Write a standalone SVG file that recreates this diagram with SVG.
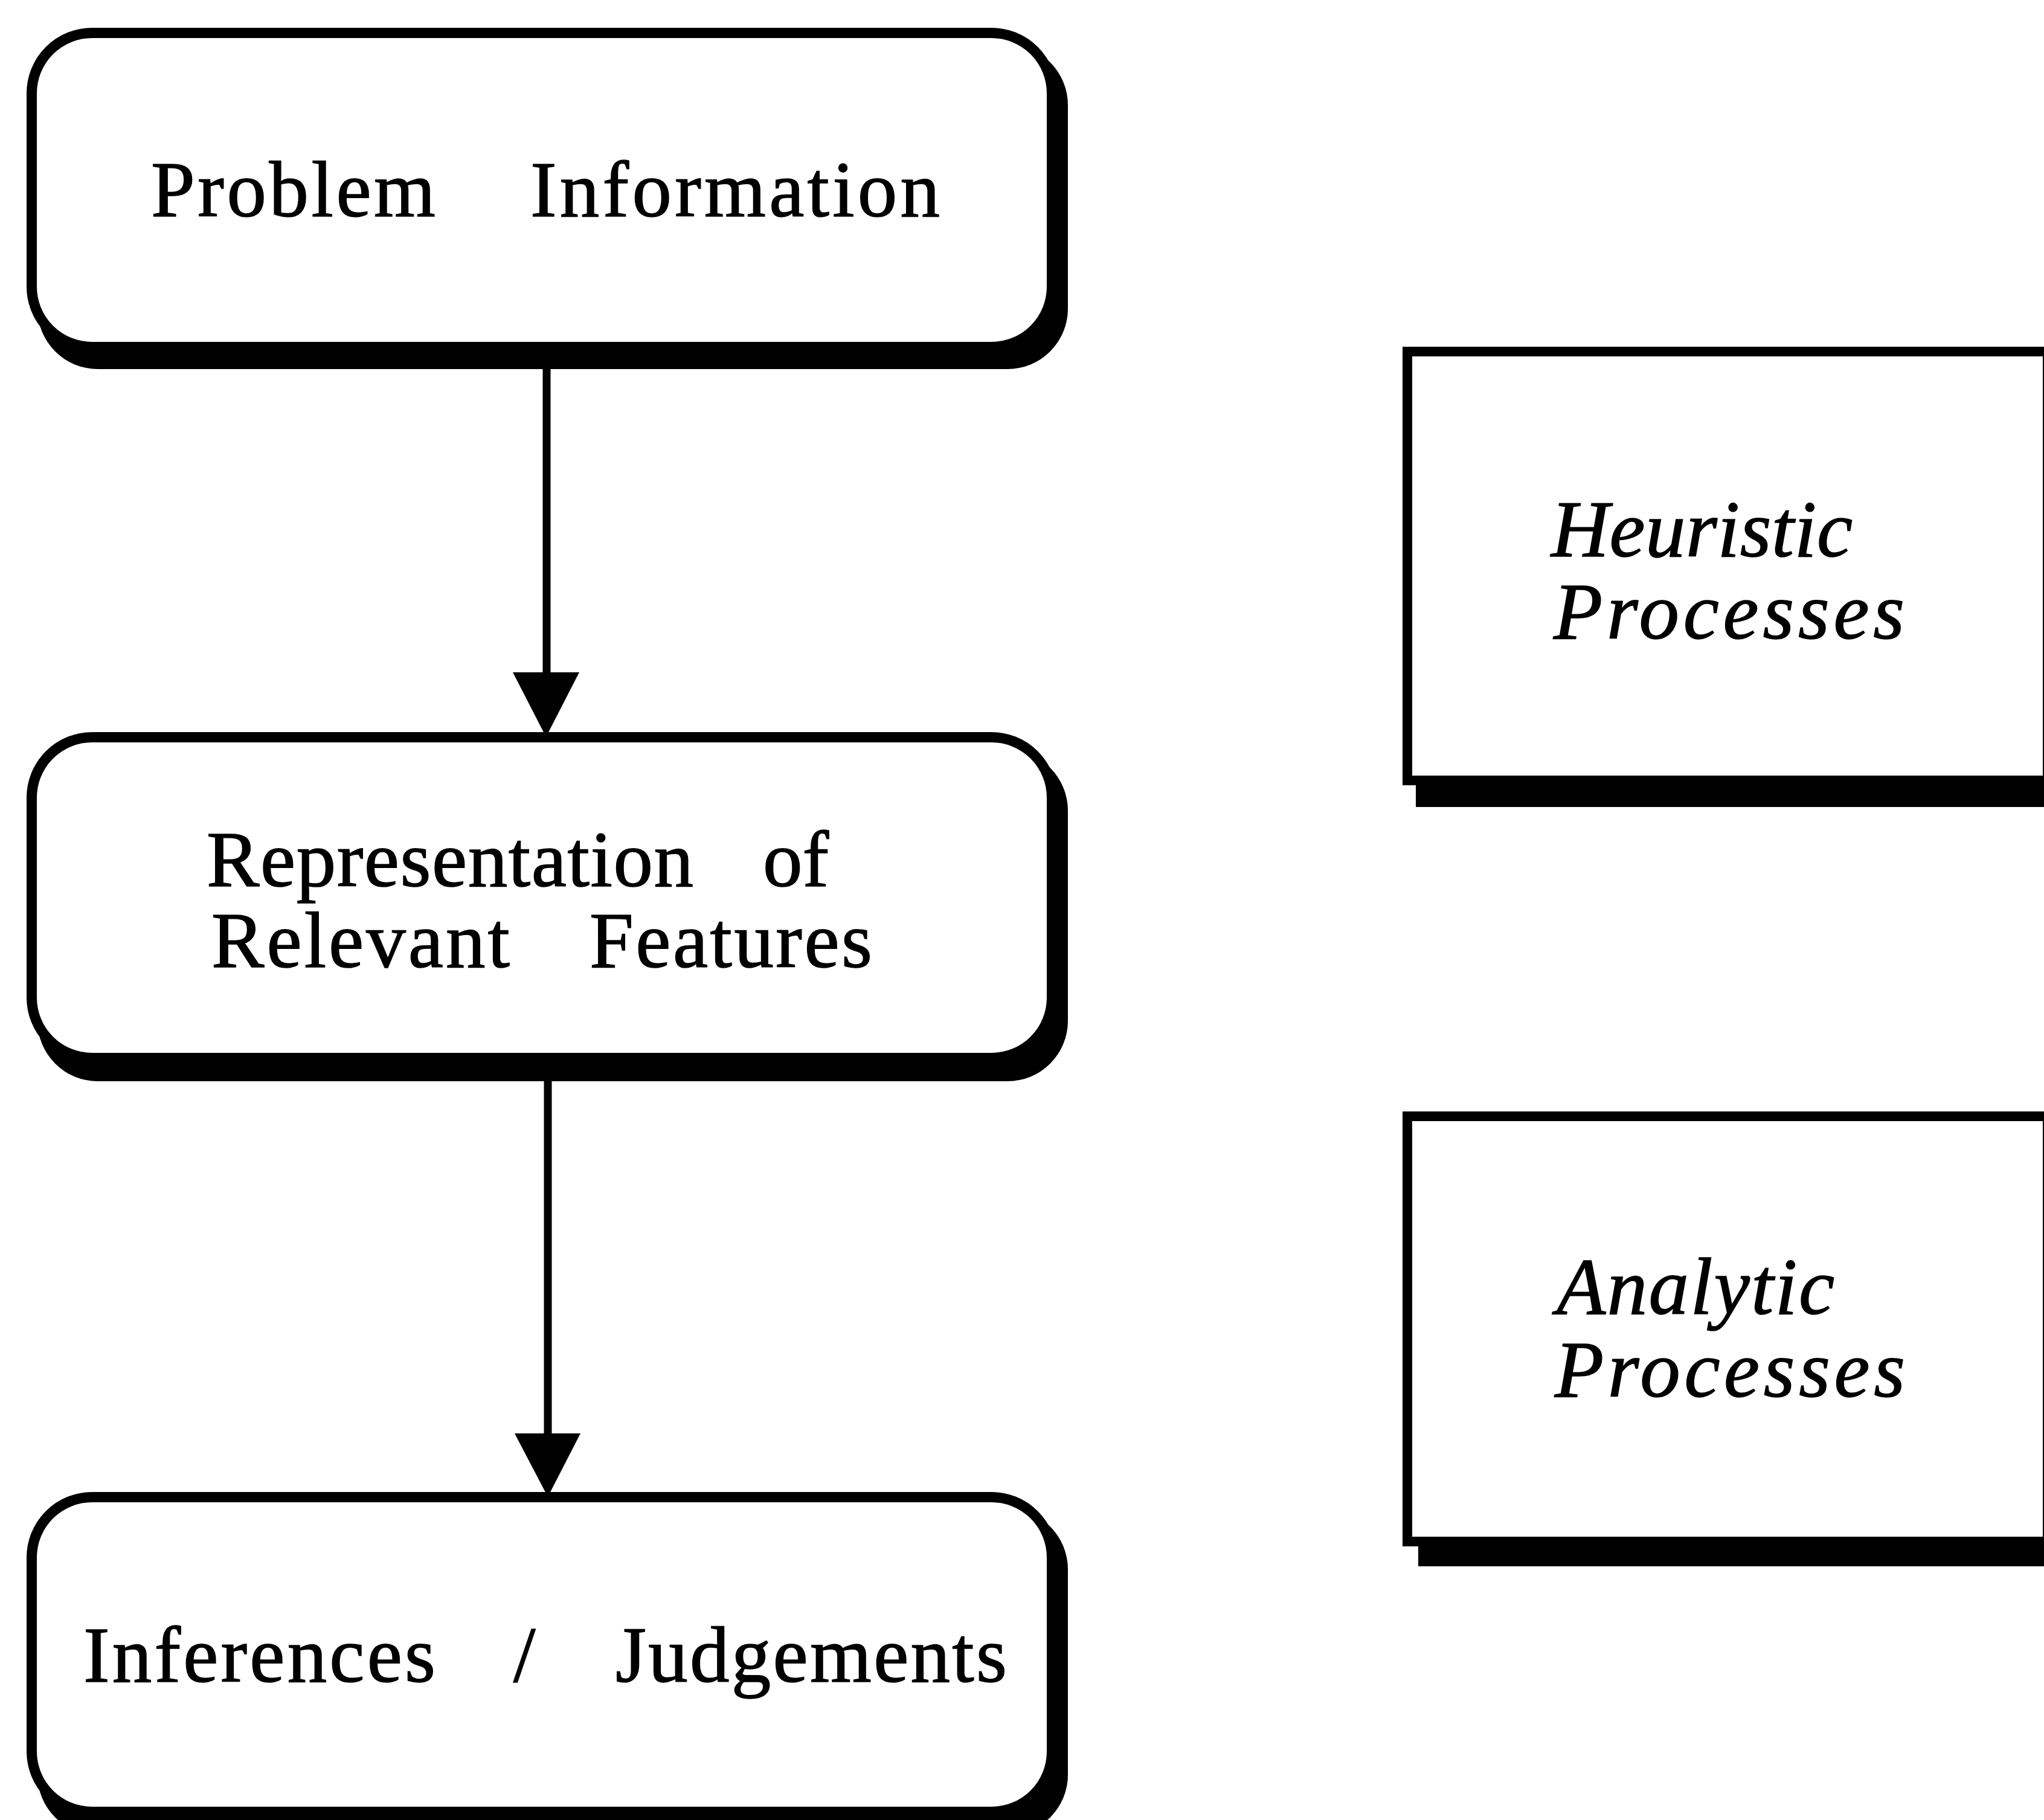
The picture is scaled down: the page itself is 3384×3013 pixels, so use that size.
<svg xmlns="http://www.w3.org/2000/svg" width="3384" height="3013" viewBox="0 0 3384 3013">
<style>
.bg{fill:#fff}
.box{fill:#fff;stroke:#000;stroke-width:17}
.shadow{fill:#000}
.lbl{font-family:"Liberation Serif","Times New Roman",serif;font-size:131px;fill:#000;stroke:#000;stroke-width:1.5}
.ital{font-family:"Liberation Serif","Times New Roman",serif;font-style:italic;font-size:133px;fill:#000;stroke:#000;stroke-width:1.5}
.conn{stroke:#000;stroke-width:13;fill:none}
.head{fill:#000}
</style>
<rect class="bg" x="0" y="0" width="3384" height="3013"/>
<g id="connectors">
  <line class="conn" x1="905" y1="600" x2="905" y2="1120"/>
  <polygon class="head" points="849,1113 959,1113 904,1220"/>
  <line class="conn" x1="907" y1="1780" x2="907" y2="2380"/>
  <polygon class="head" points="852,2373 961,2373 907,2478"/>
</g>
<g id="node-problem">
  <rect class="shadow" x="62" y="74" width="1706" height="537" rx="100" ry="100"/>
  <rect class="box" x="52.5" y="54.5" width="1689" height="520" rx="100" ry="100"/>
  <text class="lbl" y="358"><tspan x="250" textLength="471" lengthAdjust="spacing">Problem</tspan> <tspan x="878" textLength="678" lengthAdjust="spacing">Information</tspan></text>
</g>
<g id="node-representation">
  <rect class="shadow" x="62" y="1242" width="1706" height="548" rx="100" ry="100"/>
  <rect class="box" x="52.5" y="1220.5" width="1689" height="531" rx="100" ry="100"/>
  <text class="lbl" y="1467"><tspan x="342" textLength="806" lengthAdjust="spacing">Representation</tspan> <tspan x="1263" textLength="109" lengthAdjust="spacing">of</tspan></text>
  <text class="lbl" y="1601"><tspan x="350" textLength="494" lengthAdjust="spacing">Relevant</tspan> <tspan x="976" textLength="468" lengthAdjust="spacing">Features</tspan></text>
</g>
<g id="node-inferences">
  <rect class="shadow" x="62" y="2498" width="1706" height="540" rx="100" ry="100"/>
  <rect class="box" x="52.5" y="2478.5" width="1689" height="521" rx="100" ry="100"/>
  <text class="lbl" y="2784"><tspan x="138" textLength="583" lengthAdjust="spacing">Inferences</tspan> <tspan x="850">/</tspan> <tspan x="1019" textLength="648" lengthAdjust="spacing">Judgements</tspan></text>
</g>
<g id="node-heuristic">
  <rect class="shadow" x="2344" y="610" width="1100" height="726"/>
  <rect class="box" x="2330" y="582" width="1060" height="710" style="stroke-width:16"/>
  <text class="ital" y="921"><tspan x="2568" textLength="499" lengthAdjust="spacing">Heuristic</tspan></text>
  <text class="ital" y="1057"><tspan x="2572" textLength="581" lengthAdjust="spacing">Processes</tspan></text>
</g>
<g id="node-analytic">
  <rect class="shadow" x="2348" y="1870" width="1100" height="723"/>
  <rect class="box" x="2330" y="1848" width="1060" height="704" style="stroke-width:16"/>
  <text class="ital" y="2175"><tspan x="2577" textLength="460" lengthAdjust="spacing">Analytic</tspan></text>
  <text class="ital" y="2312"><tspan x="2574" textLength="580" lengthAdjust="spacing">Processes</tspan></text>
</g>
</svg>
